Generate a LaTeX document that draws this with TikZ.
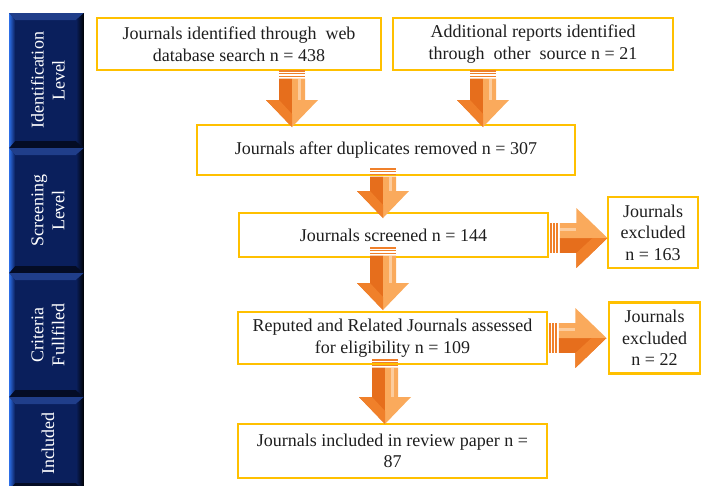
\documentclass[tikz,border=0pt]{standalone}
\usepackage{fontspec}
\setmainfont{Liberation Serif}
\usepackage{xcolor}
\usepackage{tikz}
\usetikzlibrary{positioning}
\definecolor{cNavy}{RGB}{10,31,92}
\definecolor{cNavyLt}{RGB}{32,62,138}
\definecolor{cBlue}{RGB}{45,110,230}
\definecolor{cGold}{RGB}{255,192,0}
\definecolor{cText}{RGB}{30,30,30}
\definecolor{cOrange}{RGB}{240,128,42}
\definecolor{cOrangeLt}{RGB}{250,170,92}
\definecolor{cOrangeDk}{RGB}{230,110,28}
\tikzset{
	box/.style     ={rectangle, draw=cGold, line width=2.2pt, outer sep=0pt, fill=white, align=center, inner sep=2pt, text=cText, font=\fontsize{18}{21.5}\selectfont},
	lvltext/.style ={text=white, align=center, rotate=90, font=\fontsize{18}{21}\selectfont},
	pics/blockarrow/.style={code={
		\foreach \s in {0,2.8,5.6} \fill[cOrange] (-13,\s) rectangle (13,\s+1.5);
		\fill[cOrangeDk] (0,8.5) -- (-13,8.5) -- (-13,#1-27) -- (-26,#1-27) -- (0,#1) -- cycle;
		\fill[cOrangeLt] (0,8.5) -- (13,8.5) -- (13,#1-27) -- (26,#1-27) -- (0,#1) -- cycle;
		\fill[cOrange] (-13,#1-27) -- (0,#1-13) -- (0,#1) -- (-26,#1-27) -- cycle;
		\fill[cOrangeLt!60!white] (6,8.5) rectangle (9,#1-27);
	}},
}
\begin{document}
\begin{tikzpicture}[x=1pt, y=-1pt]
	\useasboundingbox (0,0) rectangle (702,485);
	\foreach \t/\b/\lbl [count=\i] in {13/148/{Identification\\Level}, 148/273/{Screening\\Level}, 273/397/{Criteria\\Fullfiled}, 397/490/{Included}}{
		\fill[cNavy] (9,\t) rectangle (84,\b);
		\fill[cNavyLt] (9,\t) -- (84,\t) -- (76,\t+7) -- (15,\t+7) -- cycle;
		\fill[black!60!cNavy] (9,\b) -- (84,\b) -- (76,\b-7) -- (15,\b-7) -- cycle;
		\shade[left color=cBlue, right color=cNavy] (9,\t) -- (15,\t+7) -- (15,\b-7) -- (9,\b) -- cycle;
		\shade[left color=cNavy, right color=black] (84,\t) -- (76,\t+7) -- (76,\b-7) -- (84,\b) -- cycle;
		\node[lvltext] (lvl\i) at (48,{(\t+\b)/2}) {\lbl};
	}
	\node[box, minimum width=284pt, minimum height=52pt] (boxA) at (239,44) {Journals identified through \ web\\database search n = 438};
	\node[box, right=12pt of boxA, minimum width=280pt, minimum height=52pt] (boxB) {Additional reports identified\\through \ other \ source n = 21};
	\node[box, below=55pt of boxA.south east, xshift=5pt, minimum width=378pt, minimum height=50pt] (boxC) {Journals after duplicates removed n = 307};
	\node[box, below=38pt of boxC, xshift=7.5pt, minimum width=309pt, minimum height=44pt] (boxD) {Journals screened n = 144};
	\node[box, below=55pt of boxD, xshift=-1pt, minimum width=309pt, minimum height=52pt] (boxE) {Reputed and Related Journals assessed\\for eligibility n = 109};
	\node[box, below=60pt of boxE, minimum width=309pt, minimum height=54pt] (boxF) {Journals included in review paper n =\\87};
	\node[box, right=60pt of boxD, yshift=2.5pt, minimum width=90pt, minimum height=71pt] (boxG) {Journals\\excluded\\n = 163};
	\node[box, right=62pt of boxE, minimum width=91pt, minimum height=71pt] (boxH) {Journals\\excluded\\n = 22};
	\pic at ([xshift=53pt]boxA.south) {blockarrow=57};
	\pic at ([xshift=-50pt]boxB.south) {blockarrow=57};
	\pic at ([xshift=-3pt, yshift=7pt]boxC.south) {blockarrow=50};
	\pic at ([xshift=-10.5pt, yshift=10pt]boxD.south) {blockarrow=63};
	\pic at ([xshift=-7.5pt, yshift=5pt]boxE.south) {blockarrow=65};
	\pic[rotate=90, scale=1.15] at ([xshift=2pt, yshift=-3pt]boxD.east) {blockarrow=50};
	\pic[rotate=90, scale=1.15] at ([xshift=2pt]boxE.east) {blockarrow=50};
\end{tikzpicture}
\end{document}
